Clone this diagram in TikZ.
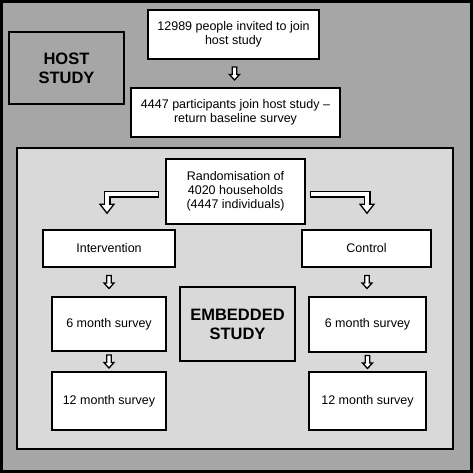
\documentclass[tikz,border=0pt]{standalone}
\usepackage{fontspec}
\setmainfont{Liberation Sans}
\usetikzlibrary{calc}
\definecolor{hostgrey}{HTML}{A6A6A6}
\definecolor{embedgrey}{HTML}{D9D9D9}
\newcommand{\hollowarrow}[2]{%
  \draw[arrowfill] let \p1=($(#1.south)!0.5!(#2.north)$) in
    (\x1-2.2pt,\y1+6.5pt) -- (\x1+2.2pt,\y1+6.5pt) -- (\x1+2.2pt,\y1-1pt)
    -- (\x1+5pt,\y1-1pt) -- (\x1,\y1-6.5pt) -- (\x1-5pt,\y1-1pt)
    -- (\x1-2.2pt,\y1-1pt) -- cycle;}
\newcommand{\bentarrow}[3]{%
  \coordinate (ht) at ($(#2.north)+(#3,-25)$);
  \draw[line width=7pt] (#1) -| (ht);
  \draw[arrowfill] ($(ht)+(-7,0)$) -- ($(ht)+(7,0)$) -- ($(ht)+(0,9)$) -- cycle;
  \draw[white,line width=4.4pt,shorten <=1.3pt] (#1) -| ($(ht)+(0,1.3)$);}
\begin{document}
\begin{tikzpicture}[x=1pt,y=-1pt,
    box/.style={draw=black,line width=1.6pt,fill=white,align=center,inner sep=0pt,
      font=\fontsize{12.5}{14}\selectfont},
    labelbox/.style={box,font=\fontsize{16.5}{19}\selectfont\bfseries},
    arrowfill/.style={draw=black,line width=1.3pt,fill=white,line join=miter}]
  \useasboundingbox (0,0) rectangle (473,473);
  \fill[hostgrey] (0,0) rectangle (473,473);
  \draw[line width=3pt] (1.5,1.5) rectangle (471.5,471.5);
  \node[labelbox,fill=hostgrey,minimum width=115,minimum height=72] (hostlbl) at (66.5,68) {HOST\\STUDY};
  \node[box,minimum width=171,minimum height=49] (invite) at (233.5,34.5) {12989 people invited to join\\host study};
  \node[box,minimum width=209,minimum height=49] (join) at (235.5,112.5) {4447 participants join host study --\\return baseline survey};
  \hollowarrow{invite}{join}
  \filldraw[fill=embedgrey,line width=1.6pt] (17,148) rectangle (453,449);
  \node[box,minimum width=139,minimum height=65] (rand) at (235.5,191.5) {Randomisation of\\4020 households\\(4447 individuals)};
  \node[box,minimum width=132,minimum height=37] (interv) at (109,248.5) {Intervention};
  \node[box,minimum width=129,minimum height=37] (ctrl) at (366.5,248.5) {Control};
  \node[box,minimum width=114,minimum height=54] (sixL) at (109,324) {6 month survey};
  \node[box,minimum width=117,minimum height=55] (sixR) at (367.5,324.5) {6 month survey};
  \node[box,minimum width=114,minimum height=58] (twelveL) at (109,401) {12 month survey};
  \node[box,minimum width=117,minimum height=58] (twelveR) at (367.5,401) {12 month survey};
  \node[labelbox,fill=embedgrey,minimum width=115,minimum height=74] (embedlbl) at (237.5,324) {EMBEDDED\\STUDY};
  \coordinate (lstart) at ($(rand.west)+(-6,2.5)$);
  \coordinate (rstart) at ($(rand.east)+(4,2.5)$);
  \bentarrow{lstart}{interv}{-2}
  \bentarrow{rstart}{ctrl}{0.5}
  \hollowarrow{interv}{sixL}
  \hollowarrow{ctrl}{sixR}
  \hollowarrow{sixL}{twelveL}
  \hollowarrow{sixR}{twelveR}
\end{tikzpicture}
\end{document}
